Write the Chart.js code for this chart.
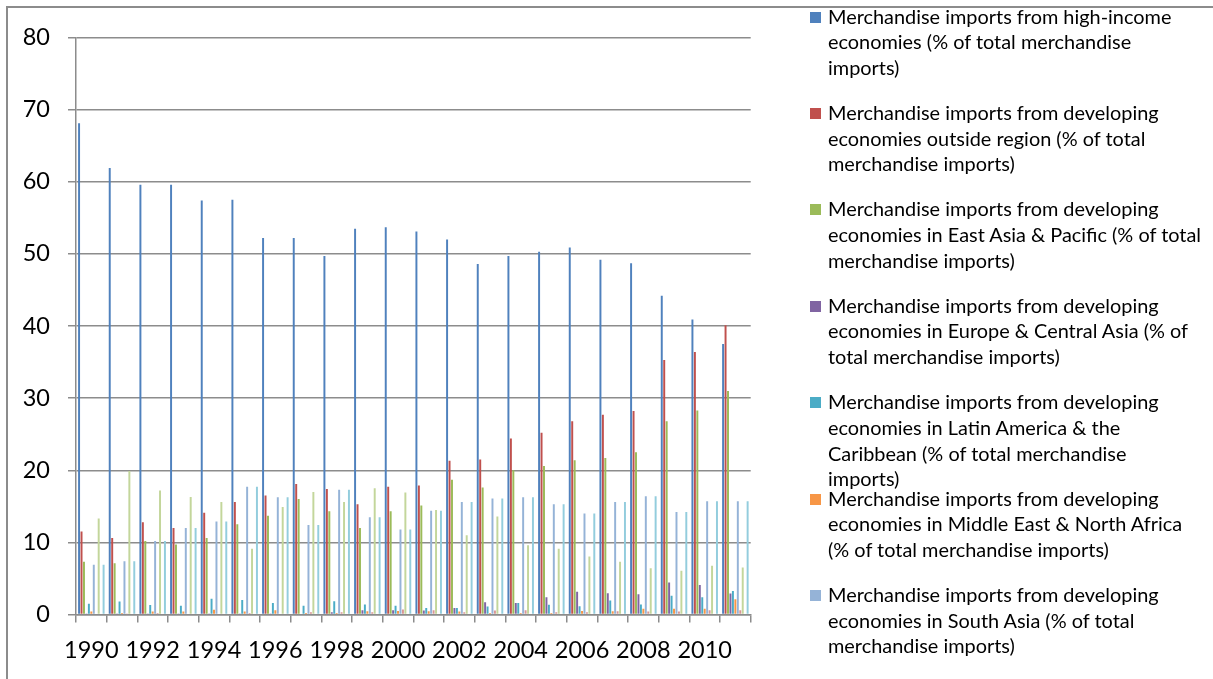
<!doctype html>
<html lang="en">
  <head>
    <meta charset="UTF-8" />
    <title>Merchandise imports by origin</title>
    <script src="https://cdn.jsdelivr.net/npm/chart.js"></script>
    <style>
      body {
        margin: 0;
        background: #fff;
        overflow: hidden;
      }
      .frame {
        position: absolute;
        left: 6px;
        top: 6px;
        width: 1400px;
        height: 900px;
        border: 2px solid #8c8c8c;
      }
      .chart-container {
        position: absolute;
        left: 0;
        top: 0;
        width: 1213px;
        height: 679px;
      }
      #legend {
        position: absolute;
        left: 810px;
        top: 0;
        font-family: Lato, 'Liberation Sans', sans-serif;
        font-size: 19.9px;
        color: #000;
      }
      .item {
        position: absolute;
        left: 0;
        white-space: pre;
        line-height: 25.7px;
        padding-left: 18px;
      }
      .item i {
        position: absolute;
        left: 0;
        top: 8px;
        width: 11px;
        height: 11px;
      }
    </style>
  </head>
  <body>
    <div class="frame"></div>
    <div class="chart-container">
      <canvas id="importsChart" width="1213" height="679"></canvas>
    </div>
    <div id="legend"></div>

    <script>
      const years = ['1990', '1991', '1992', '1993', '1994', '1995', '1996', '1997', '1998', '1999', '2000',
        '2001', '2002', '2003', '2004', '2005', '2006', '2007', '2008', '2009', '2010', '2011']

      const highIncome = [68.1, 61.9, 59.6, 59.6, 57.4, 57.5, 52.2, 52.2, 49.7, 53.5, 53.7, 53.1, 52.0, 48.6, 49.7, 50.3, 50.9, 49.2, 48.7, 44.2, 40.9, 37.5]
      const outsideRegion = [11.5, 10.6, 12.8, 12.0, 14.1, 15.6, 16.5, 18.1, 17.4, 15.3, 17.7, 17.9, 21.3, 21.5, 24.4, 25.2, 26.8, 27.7, 28.2, 35.3, 36.4, 40.1]
      const eastAsia = [7.3, 7.1, 10.2, 9.7, 10.6, 12.5, 13.7, 16.0, 14.3, 12.0, 14.3, 15.1, 18.7, 17.6, 20.0, 20.6, 21.4, 21.7, 22.5, 26.8, 28.3, 31.0]
      const europeCentralAsia = [0.05, 0.05, 0.05, 0.05, 0.05, 0.05, 0.05, 0.1, 0.3, 0.6, 0.6, 0.55, 0.9, 1.7, 1.6, 2.4, 3.15, 2.95, 2.8, 4.45, 4.1, 2.9]
      const latinAmerica = [1.5, 1.8, 1.3, 1.2, 2.2, 2.0, 1.6, 1.2, 1.85, 1.4, 1.2, 0.9, 0.9, 1.1, 1.6, 1.35, 1.15, 1.95, 1.4, 2.6, 2.4, 3.25]
      const middleEast = [0.4, 0.2, 0.4, 0.4, 0.65, 0.4, 0.6, 0.2, 0.2, 0.45, 0.5, 0.45, 0.4, 0.2, 0.2, 0.2, 0.5, 0.45, 0.8, 0.8, 0.8, 2.1]
      const southAsia = [6.9, 7.4, 10.2, 12.0, 12.9, 17.7, 16.25, 12.4, 17.3, 13.5, 11.8, 14.4, 15.6, 16.1, 16.25, 15.3, 14.0, 15.6, 16.4, 14.2, 15.7, 15.7]
      const subSaharan = [0.1, 0.05, 0.2, 0.1, 0.1, 0.2, 0.1, 0.3, 0.3, 0.3, 0.7, 0.6, 0.3, 0.55, 0.6, 0.3, 0.3, 0.45, 0.4, 0.4, 0.6, 0.6]
      const residual = [13.3, 19.9, 17.2, 16.3, 15.6, 9.1, 14.9, 17.0, 15.6, 17.5, 16.9, 14.5, 11.0, 13.6, 9.6, 9.1, 8.05, 7.3, 6.4, 6.05, 6.75, 6.5]
      const arabWorld = [0, 0, 0, 0, 0, 0, 0, 0, 0, 0, 0, 0, 0, 0, 0, 0, 0, 0, 0, 0, 0, 0]
      const withinRegion = [6.9, 7.4, 10.2, 12.0, 12.9, 17.7, 16.25, 12.4, 17.3, 13.5, 11.8, 14.4, 15.6, 16.1, 16.25, 15.3, 14.0, 15.6, 16.4, 14.2, 15.7, 15.7]

      // line breaks where the original legend wraps
      const seriesNames = [
        'Merchandise imports from high-income\neconomies (% of total merchandise\nimports)',
        'Merchandise imports from developing\neconomies outside region (% of total\nmerchandise imports)',
        'Merchandise imports from developing\neconomies in East Asia & Pacific (% of total\nmerchandise imports)',
        'Merchandise imports from developing\neconomies in Europe & Central Asia (% of\ntotal merchandise imports)',
        'Merchandise imports from developing\neconomies in Latin America & the\nCaribbean (% of total merchandise\nimports)',
        'Merchandise imports from developing\neconomies in Middle East & North Africa\n(% of total merchandise imports)',
        'Merchandise imports from developing\neconomies in South Asia (% of total\nmerchandise imports)',
        'Merchandise imports from developing economies in Sub-Saharan Africa (% of total merchandise imports)',
        'Merchandise imports by the reporting economy, residual (% of total merchandise imports)',
        'Merchandise imports from economies in the Arab World (% of total merchandise imports)',
        'Merchandise imports from developing economies within region (% of total merchandise imports)'
      ]
      const seriesValues = [highIncome, outsideRegion, eastAsia, europeCentralAsia, latinAmerica, middleEast,
        southAsia, subSaharan, residual, arabWorld, withinRegion]
      const seriesColors = ['#4f81bd', '#c0504d', '#9bbb59', '#8064a2', '#4bacc6', '#f79646',
        '#95b3d7', '#d99694', '#c3d69b', '#b3a2c7', '#93cddd']
      const legendCount = 7 // the rest of the legend is cut off in the original

      const gridGrey = '#8c8c8c'
      const ctx = document.getElementById('importsChart').getContext('2d')
      const importsChart = new Chart(ctx, {
        type: 'bar',
        data: {
          labels: years,
          datasets: seriesValues.map((values, i) => ({
            label: seriesNames[i].replace(/\n/g, ' '),
            data: values,
            backgroundColor: seriesColors[i],
            borderWidth: 0,
            categoryPercentage: 0.88,
            barPercentage: 0.8
          }))
        },
        options: {
          responsive: false,
          animation: false,
          layout: { padding: { left: 0, top: 37.5, right: 462.3, bottom: 0 } },
          plugins: {
            legend: { display: false },
            tooltip: { enabled: false }
          },
          scales: {
            x: {
              grid: { drawOnChartArea: false, drawTicks: true, tickLength: 8, color: gridGrey, lineWidth: 1.5 },
              border: { color: gridGrey, width: 1.5 },
              ticks: {
                autoSkip: false,
                maxRotation: 0,
                padding: 14,
                color: '#000',
                font: { family: 'Lato', size: 23.5 },
                callback: function (value, index) {
                  return index % 2 === 0 ? this.getLabelForValue(value) : ''
                }
              },
              afterFit: (scale) => {
                scale.height = 64.5
              }
            },
            y: {
              min: 0,
              max: 80,
              grid: { color: gridGrey, lineWidth: 1.5, tickLength: 8 },
              border: { color: gridGrey, width: 1.5 },
              ticks: {
                stepSize: 10,
                padding: 18,
                color: '#000',
                font: { family: 'Lato', size: 23.5 }
              },
              afterFit: (scale) => {
                scale.width = 76
              }
            }
          }
        }
      })

      // legend built from the datasets, fixed row pitch like the original
      const legendEl = document.getElementById('legend')
      importsChart.data.datasets.slice(0, legendCount).forEach((ds, i) => {
        const item = document.createElement('div')
        item.className = 'item'
        item.style.top = 3.5 + i * 96.4 + 'px'
        item.textContent = seriesNames[i]
        const box = document.createElement('i')
        box.style.background = ds.backgroundColor
        item.prepend(box)
        legendEl.appendChild(item)
      })
    </script>
  </body>
</html>
